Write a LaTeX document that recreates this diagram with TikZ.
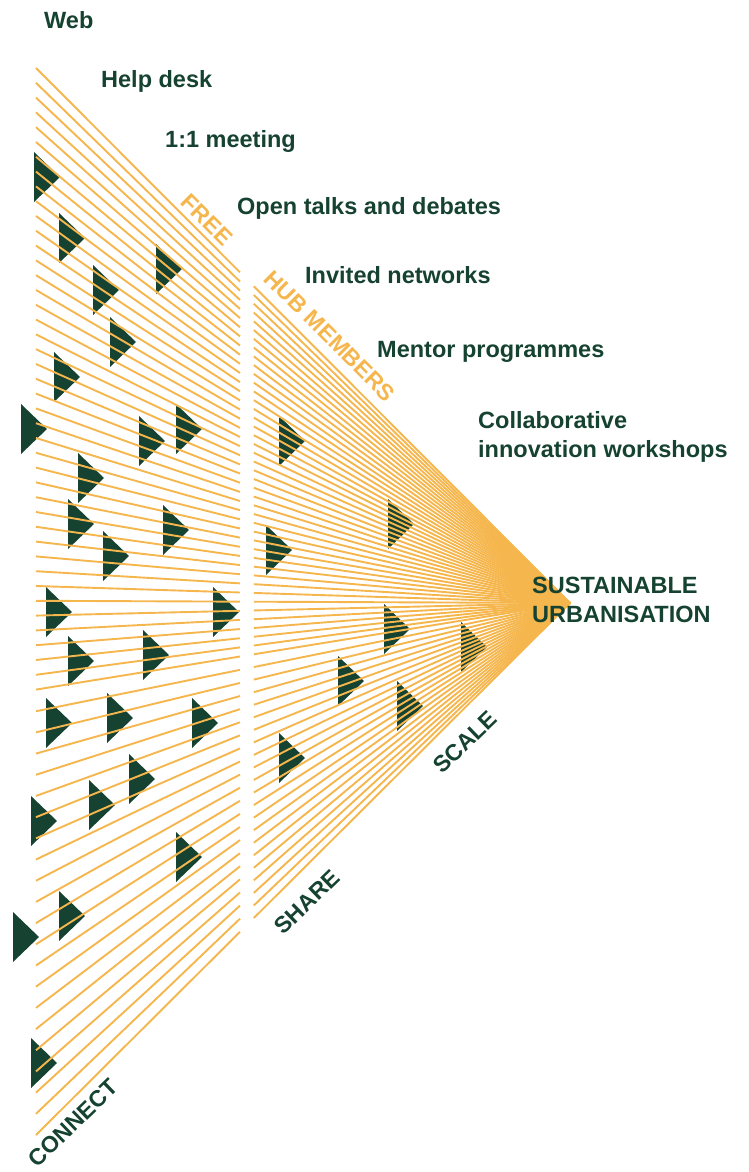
\documentclass[tikz,border=0pt]{standalone}
\usepackage{fontspec}
\setmainfont{Liberation Sans}
\usetikzlibrary{calc}
\definecolor{hubgreen}{RGB}{22,66,49}
\definecolor{hubgold}{RGB}{245,182,77}

\begin{document}
\begin{tikzpicture}[x=1pt,y=-1pt,
  item/.style={anchor=base west,inner sep=0pt,text=hubgreen,align=left,
    font=\fontsize{23.5}{29}\selectfont\bfseries},
  tag/.style={inner sep=0pt,font=\fontsize{23}{27}\selectfont\bfseries},
  fan/.style={draw=hubgold,line width=1.9pt},
  pointer/.style={fill=hubgreen}]

\useasboundingbox (0,0) rectangle (748,1172);

\coordinate (apex) at (570,603);

% triangles, left panel then right panel
\foreach \x/\y in {34/152,59/213,93/265,156/244,110/317,54/352,21/404,139/416,
    176/404,78/453,68/499,163/505,103/531,46/587,213/587,68/636,143/630,
    46/698,107/693,192/698,129/754,89/780,31/796,176/832,13/912,59/891,31/1038,
    279/416,388/499,266/525,384/604,461/622,338/656,397/681,279/733}
  \fill[pointer] (\x,\y) -- ++(0,50) -- ++(26,-25) -- cycle;

% fan of lines, cut by the gap between the panels
\foreach \k in {0,...,42}
  \coordinate (s\k) at (36,68+14.8*\k);
\foreach \k in {43,...,63}
  \coordinate (s\k) at (36,690+21.19*\k-21.19*42);
\foreach \k in {0,...,63}{
  \draw[fan] (s\k) -- ($(s\k)!0.382!(apex)$);
  \draw[fan] ($(s\k)!0.408!(apex)$) -- (apex);
}

% offers
\node[item] (web) at (44,29) {Web};
\node[item] (desk) at (101,88) {Help desk};
\node[item] (meet) at (165,147) {1:1 meeting};
\node[item] (talks) at (237,214) {Open talks and debates};
\node[item] (invited) at (305,283) {Invited networks};
\node[item] (mentor) at (377,357) {Mentor programmes};
\node[item] (collab) at (478,457) {Collaborative\\innovation workshops};
\node[item] (goal) at (532,622) {SUSTAINABLE\\URBANISATION};

% edge labels
\node[tag,text=hubgold,rotate=-45] (free) at (207,220) {FREE};
\node[tag,text=hubgold,rotate=-45] (hub) at (330,336) {HUB MEMBERS};
\node[tag,text=hubgreen,rotate=44] (connect) at (73,1123) {CONNECT};
\node[tag,text=hubgreen,rotate=44] (share) at (307,902) {SHARE};
\node[tag,text=hubgreen,rotate=44] (scale) at (465,742) {SCALE};

\end{tikzpicture}
\end{document}
